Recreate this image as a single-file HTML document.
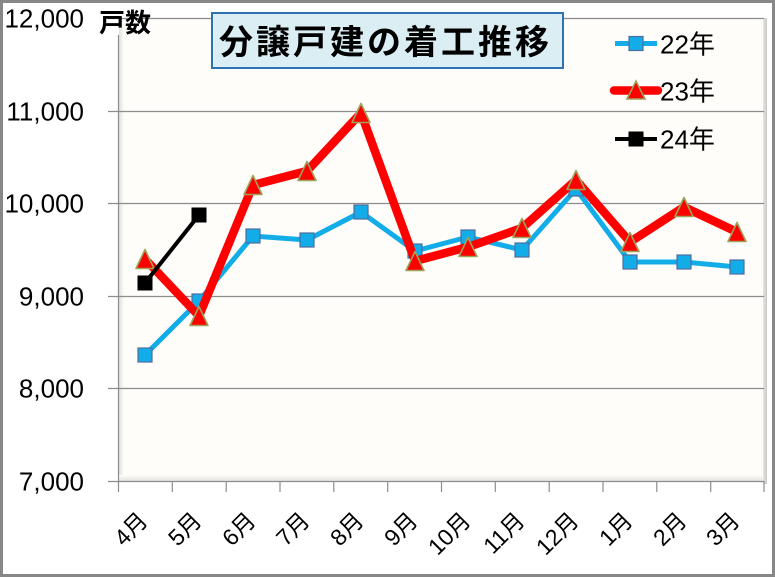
<!DOCTYPE html>
<html><head><meta charset="utf-8"><style>
html,body{margin:0;padding:0;background:#fff;}
svg{display:block;}
text{font-family:"Liberation Sans","Noto Sans CJK JP",sans-serif;fill:#000;}
</style></head><body>
<svg width="775" height="577" viewBox="0 0 775 577" xmlns="http://www.w3.org/2000/svg">
<defs>
<linearGradient id="rs" x1="0" x2="1" y1="0" y2="0"><stop offset="0" stop-color="#e6e6e2"/><stop offset="1" stop-color="#c8c8c8"/></linearGradient>
<linearGradient id="ls" x1="0" x2="1" y1="0" y2="0"><stop offset="0" stop-color="#e0e0dc"/><stop offset="1" stop-color="#fefdfa"/></linearGradient>
<linearGradient id="bs" x1="0" x2="0" y1="0" y2="1"><stop offset="0" stop-color="#fefdfa"/><stop offset="1" stop-color="#e4e4e0"/></linearGradient>
</defs>
<rect x="0" y="0" width="775" height="577" fill="#fff"/>
<rect x="118" y="18" width="646" height="463" fill="#fefdfa"/>
<rect x="119" y="18" width="5" height="463" fill="url(#ls)"/>
<rect x="118" y="475" width="646" height="6" fill="url(#bs)"/>
<rect x="763" y="18" width="4" height="466" fill="url(#rs)"/>
<g stroke="#8c8c8c" stroke-width="1.2">
<line x1="108" y1="18.5" x2="764" y2="18.5"/>
<line x1="108" y1="111.5" x2="764" y2="111.5"/>
<line x1="108" y1="203.5" x2="764" y2="203.5"/>
<line x1="108" y1="296.5" x2="764" y2="296.5"/>
<line x1="108" y1="388.5" x2="764" y2="388.5"/>
<line x1="108" y1="481.5" x2="764" y2="481.5"/>
<line x1="118.5" y1="35" x2="118.5" y2="481"/>
</g>
<g stroke="#8c8c8c" stroke-width="1.2">
<line x1="118.5" y1="481" x2="118.5" y2="492"/>
<line x1="172.3" y1="481" x2="172.3" y2="492"/>
<line x1="226.2" y1="481" x2="226.2" y2="492"/>
<line x1="280" y1="481" x2="280" y2="492"/>
<line x1="333.8" y1="481" x2="333.8" y2="492"/>
<line x1="387.7" y1="481" x2="387.7" y2="492"/>
<line x1="441.5" y1="481" x2="441.5" y2="492"/>
<line x1="495.3" y1="481" x2="495.3" y2="492"/>
<line x1="549.2" y1="481" x2="549.2" y2="492"/>
<line x1="603" y1="481" x2="603" y2="492"/>
<line x1="656.8" y1="481" x2="656.8" y2="492"/>
<line x1="710.7" y1="481" x2="710.7" y2="492"/>
<line x1="764" y1="481" x2="764" y2="492"/>
</g>
<g font-size="26" text-anchor="end">
<text x="84" y="27.5">12,000</text>
<text x="84" y="120.5">11,000</text>
<text x="84" y="212.5">10,000</text>
<text x="84" y="305.5">9,000</text>
<text x="84" y="397.5">8,000</text>
<text x="84" y="490.5">7,000</text>
</g>
<text x="99" y="32" font-size="26" font-weight="bold">戸数</text>
<g font-size="23" text-anchor="end">
<text transform="translate(149,522) rotate(-45)">4月</text>
<text transform="translate(203,522) rotate(-45)">5月</text>
<text transform="translate(257,522) rotate(-45)">6月</text>
<text transform="translate(311,522) rotate(-45)">7月</text>
<text transform="translate(365,522) rotate(-45)">8月</text>
<text transform="translate(419,522) rotate(-45)">9月</text>
<text transform="translate(472,522) rotate(-45)">10月</text>
<text transform="translate(526,522) rotate(-45)">11月</text>
<text transform="translate(580,522) rotate(-45)">12月</text>
<text transform="translate(634,522) rotate(-45)">1月</text>
<text transform="translate(688,522) rotate(-45)">2月</text>
<text transform="translate(741,522) rotate(-45)">3月</text>
</g>
<polyline fill="none" stroke="#12ade9" stroke-width="5" stroke-linejoin="round" points="145,355 199,301 253,236 307,240 361,212 415,251 468,237 522,250 576,189 630,262 684,262 737,267"/>
<g fill="#12ade9" stroke="#4e6d9e" stroke-width="1.2">
<rect x="138" y="348" width="14" height="14"/>
<rect x="192" y="294" width="14" height="14"/>
<rect x="246" y="229" width="14" height="14"/>
<rect x="300" y="233" width="14" height="14"/>
<rect x="354" y="205" width="14" height="14"/>
<rect x="408" y="244" width="14" height="14"/>
<rect x="461" y="230" width="14" height="14"/>
<rect x="515" y="243" width="14" height="14"/>
<rect x="569" y="182" width="14" height="14"/>
<rect x="623" y="255" width="14" height="14"/>
<rect x="677" y="255" width="14" height="14"/>
<rect x="730" y="260" width="14" height="14"/>
</g>
<polyline fill="none" stroke="#ff0000" stroke-width="8.5" stroke-linejoin="round" points="145,259 199,316 253,185 307,171 361,113 415,261 468,247 522,228 576,180 630,242 684,207 737,232"/>
<g fill="#ff0000" stroke="#9da45a" stroke-width="1.6" stroke-linejoin="round">
<polygon points="145,249.5 154,268.5 136,268.5"/>
<polygon points="199,306.5 208,325.5 190,325.5"/>
<polygon points="253,175.5 262,194.5 244,194.5"/>
<polygon points="307,161.5 316,180.5 298,180.5"/>
<polygon points="361,103.5 370,122.5 352,122.5"/>
<polygon points="415,251.5 424,270.5 406,270.5"/>
<polygon points="468,237.5 477,256.5 459,256.5"/>
<polygon points="522,218.5 531,237.5 513,237.5"/>
<polygon points="576,170.5 585,189.5 567,189.5"/>
<polygon points="630,232.5 639,251.5 621,251.5"/>
<polygon points="684,197.5 693,216.5 675,216.5"/>
<polygon points="737,222.5 746,241.5 728,241.5"/>
</g>
<polyline fill="none" stroke="#000" stroke-width="4" points="145,283 199,215"/>
<rect x="137.5" y="275.5" width="15" height="15" fill="#000"/>
<rect x="191.5" y="207.5" width="15" height="15" fill="#000"/>
<rect x="212" y="13" width="351" height="55" fill="#dbeef4" stroke="#2f72b0" stroke-width="2"/>
<text x="219" y="54" font-size="34" font-weight="bold" letter-spacing="3" font-family="'Noto Sans CJK JP',sans-serif">分譲戸建の着工推移</text>
<line x1="615" y1="43.5" x2="657" y2="43.5" stroke="#12ade9" stroke-width="5"/>
<rect x="629" y="36.5" width="14" height="14" fill="#12ade9" stroke="#4e6d9e" stroke-width="1.2"/>
<text x="660" y="53.5" font-size="26">22年</text>
<line x1="614" y1="90.5" x2="658" y2="90.5" stroke="#ff0000" stroke-width="8.5" stroke-linecap="round"/>
<polygon points="636,81 645,99 627,99" fill="#ff0000" stroke="#9da45a" stroke-width="1.6"/>
<text x="660" y="100.5" font-size="26">23年</text>
<line x1="615" y1="139" x2="657" y2="139" stroke="#000" stroke-width="4"/>
<rect x="628.5" y="131.5" width="15" height="15" fill="#000"/>
<text x="660" y="148.5" font-size="26">24年</text>
<rect x="1.5" y="1.5" width="772" height="574" fill="none" stroke="#878787" stroke-width="3"/>
</svg>
</body></html>
